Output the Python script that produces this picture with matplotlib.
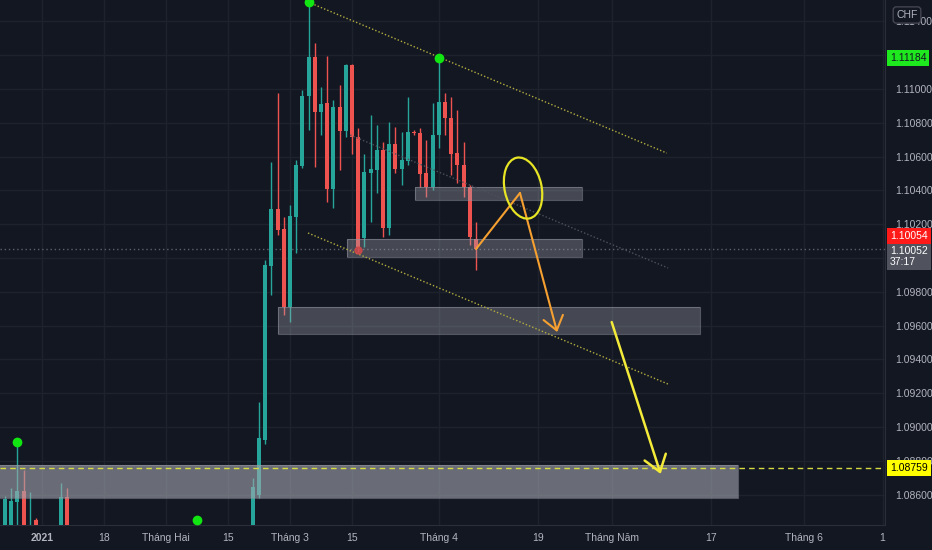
import matplotlib.pyplot as plt
from matplotlib.patches import Rectangle, Ellipse
from matplotlib import transforms

plt.rcParams['font.family'] = ['Liberation Sans', 'DejaVu Sans']

BG = '#131722'
UP = '#26a69a'
DOWN = '#ef5350'
TXT = '#b2b5be'
GRID = '#1e222d'

# daily bars, index 0 = 1 March 2021 (weekends skipped)
bars = [-46, -45, -44, -43, -42, -41, -37, -36,
        -6, -5, -4, -3, -2, -1, 0, 1, 2, 3, 4, 5, 6, 7, 8, 9, 10,
        11, 12, 13, 14, 15, 16, 17, 18, 19, 20, 21, 22, 23, 24, 25,
        26, 27, 28, 29, 30]
opens = [1.0835, 1.0835, 1.08558, 1.08621, 1.0836, 1.0845, 1.0835, 1.08588,
         1.0832, 1.08598, 1.08923, 1.09953, 1.10290, 1.10172, 1.09710, 1.10243,
         1.10544, 1.10959, 1.11189, 1.10864, 1.10917, 1.10408, 1.10893, 1.10751,
         1.11142, 1.10716, 1.10118, 1.10503, 1.10521, 1.10639, 1.10178, 1.10675,
         1.10527, 1.10574, 1.10746, 1.10740, 1.10503, 1.10420, 1.10728, 1.10923,
         1.10828, 1.10621, 1.10550, 1.10420, 1.10110]
highs = [1.0859, 1.08639, 1.08913, 1.08746, 1.08617, 1.0846, 1.08669, 1.08639,
         1.08698, 1.09148, 1.09988, 1.10568, 1.10976, 1.10243, 1.10314, 1.10580,
         1.10994, 1.11515, 1.11272, 1.11012, 1.11195, 1.10935, 1.11024, 1.11150,
         1.11150, 1.10769, 1.10615, 1.10846, 1.10787, 1.10686, 1.10805, 1.10775,
         1.10746, 1.10953, 1.10760, 1.10769, 1.10698, 1.10917, 1.11184, 1.10976,
         1.10953, 1.10876, 1.10686, 1.10432, 1.10213]
lows = [1.0830, 1.0830, 1.0835, 1.0830, 1.0835, 1.0835, 1.0830, 1.0830,
        1.0826, 1.0858, 1.0890, 1.09781, 1.10136, 1.0966, 1.09621, 1.10030,
        1.10533, 1.10757, 1.10538, 1.10728, 1.10331, 1.10296, 1.10521, 1.10716,
        1.10615, 1.10035, 1.10065, 1.10213, 1.10385, 1.10124, 1.10136, 1.10503,
        1.10432, 1.10550, 1.10730, 1.10420, 1.10361, 1.10402, 1.10651, 1.10728,
        1.10491, 1.10444, 1.10361, 1.10077, 1.09929]
closes = [1.08574, 1.08564, 1.08621, 1.0835, 1.0840, 1.0840, 1.08588, 1.0835,
          1.08645, 1.08935, 1.09959, 1.10290, 1.10166, 1.09710, 1.10249, 1.10550,
          1.10959, 1.11189, 1.10864, 1.10911, 1.10408, 1.10893, 1.10751, 1.11142,
          1.10716, 1.10065, 1.10509, 1.10527, 1.10639, 1.10178, 1.10675, 1.10527,
          1.10580, 1.10746, 1.10740, 1.10497, 1.10420, 1.10728, 1.10923, 1.10828,
          1.10615, 1.10550, 1.10420, 1.10124, 1.10054]

date_ticks = [-40, -30, -20, -10, 0, 10, 24, 40, 52, 68, 83, 95.6]
date_labels = ['2021', '18', 'Tháng Hai', '15', 'Tháng 3', '15', 'Tháng 4',
               '19', 'Tháng Năm', '17', 'Tháng 6', '1']
price_ticks = [1.086, 1.088, 1.090, 1.092, 1.094, 1.096, 1.098, 1.100,
               1.102, 1.104, 1.106, 1.108, 1.110, 1.112, 1.114]
# 1.100 and 1.112 sit under the price badges
price_labels = ['1.08600', '1.08800', '1.09000', '1.09200', '1.09400', '1.09600',
                '1.09800', '', '1.10200', '1.10400', '1.10600', '1.10800',
                '1.11000', '', '1.11400']

# drawn zones: x start, x end, low, high, strength
zone_x0 = [20.2, 9.2, -1.9, -47]
zone_x1 = [47.1, 47.1, 66.1, 72.3]
zone_lo = [1.10343, 1.10006, 1.09550, 1.08580]
zone_hi = [1.10420, 1.10112, 1.09710, 1.08775]
zone_alpha = [0.35, 0.35, 0.35, 0.6]

# channel lines
trend_x = [(2.9, 60.8), (2.9, 61.0), (9.7, 61.0)]
trend_p = [(1.11515, 1.10621), (1.10148, 1.09254), (1.10728, 1.09941)]
trend_col = ['#b3ad3e', '#b3ad3e', '#4c505b']

pivot_x = [3, 24, -44, -15]
pivot_p = [1.11515, 1.11184, 1.08913, 1.08450]

orange_x = [30.0, 37.1, 43.1]
orange_p = [1.10053, 1.10385, 1.09562]
yellow_x = [51.9, 59.8]
yellow_p = [1.09621, 1.08722]
circle_x, circle_p = 37.6, 1.10414

last_price = 1.10052
bid_price = 1.10054
target_price = 1.08759

fig = plt.figure(figsize=(9.32, 5.5), dpi=100, facecolor=BG)
ax = fig.add_axes([0, 25 / 550, 885 / 932, 525 / 550])
ax.set_facecolor(BG)
ax.set_xlim(-46.8, 96.0)
ax.set_ylim(1.0842, 1.11527)

# grid
for t in date_ticks:
    ax.axvline(t, color=GRID, lw=1, zorder=0)
for p in price_ticks:
    ax.axhline(p, color=GRID, lw=1, zorder=0)

# candles
cols = [UP if c >= o else DOWN for o, c in zip(opens, closes)]
ax.vlines(bars, lows, highs, colors=cols, lw=1, zorder=2)
ax.bar(bars, [max(abs(c - o), 0.00003) for o, c in zip(opens, closes)],
       bottom=[min(o, c) for o, c in zip(opens, closes)],
       width=0.64, color=cols, zorder=3)

# zones
for x0, x1, lo, hi, a in zip(zone_x0, zone_x1, zone_lo, zone_hi, zone_alpha):
    ax.add_patch(Rectangle((x0, lo), x1 - x0, hi - lo, facecolor='#a3a6af',
                           alpha=a, edgecolor='none', zorder=4))
    ax.add_patch(Rectangle((x0, lo), x1 - x0, hi - lo, facecolor='none',
                           edgecolor='#9598a1', alpha=0.5, lw=0.8, zorder=4))

# lines
for xs, ps, c in zip(trend_x, trend_p, trend_col):
    ax.plot(xs, ps, color=c, lw=1, ls=(0, (1, 1.5)), zorder=5)
ax.axhline(last_price, color='#5d606b', lw=1, ls=(0, (1, 2)), zorder=1)
ax.axhline(target_price, color='#d6dc40', lw=1, ls=(0, (4, 3)), zorder=5)

# pivot markers
ax.plot(pivot_x, pivot_p, 'o', color='#12e612', ms=6, zorder=6)
ax.plot([11], [1.10047], 'o', color='#d94848', ms=5, alpha=0.8, zorder=6)

# arrows
ORANGE = '#f5a030'
ax.plot(orange_x[:2], orange_p[:2], color=ORANGE, lw=1.5, zorder=7,
        solid_capstyle='round')
ax.annotate('', xy=(orange_x[2], orange_p[2]), xytext=(orange_x[1], orange_p[1]),
            arrowprops=dict(arrowstyle='->,head_length=0.6,head_width=0.45',
                            color=ORANGE, lw=1.5, shrinkA=0, shrinkB=0,
                            mutation_scale=16), zorder=7)
ax.annotate('', xy=(yellow_x[1], yellow_p[1]), xytext=(yellow_x[0], yellow_p[0]),
            arrowprops=dict(arrowstyle='->,head_length=0.7,head_width=0.5',
                            color='#f3ea3a', lw=1.8, shrinkA=0, shrinkB=0,
                            mutation_scale=16), zorder=7)
ell_tr = fig.dpi_scale_trans + transforms.ScaledTranslation(circle_x, circle_p, ax.transData)
ax.add_patch(Ellipse((0, 0), 0.37, 0.62, angle=12, transform=ell_tr,
                     facecolor='none', edgecolor='#e6e424', lw=1.6, zorder=7))

# axes styling
for s in ['left', 'top']:
    ax.spines[s].set_visible(False)
for s in ['right', 'bottom']:
    ax.spines[s].set_color('#2a2e39')
ax.yaxis.tick_right()
ax.set_yticks(price_ticks)
ax.set_yticklabels(price_labels)
ax.set_xticks(date_ticks)
ax.set_xticklabels(date_labels)
ax.tick_params(axis='y', length=0, pad=7, labelsize=7.5, labelcolor=TXT)
ax.tick_params(axis='x', length=0, pad=6, labelsize=7.5, labelcolor=TXT)
ax.get_xticklabels()[0].set_fontweight('bold')


def price_label(price, text, fc, tc, dy=0):
    ax.annotate(text, xy=(1.0, price), xycoords=('axes fraction', 'data'),
                xytext=(3.5, dy), textcoords='offset points', ha='left', va='center',
                fontsize=7.5, color=tc, linespacing=1.15,
                bbox=dict(boxstyle='square,pad=0.3', fc=fc, ec='none'),
                annotation_clip=False, zorder=10)


price_label(1.11184, '1.11184', '#1ee81e', BG)
price_label(last_price, '1.10052\n37:17', '#50535e', 'white', dy=-5)
price_label(bid_price, '1.10054', '#ff1a1a', 'white', dy=9.5)
price_label(target_price, '1.08759', '#ffff00', 'black')

fig.text(907 / 932, 1 - 15 / 550, 'CHF', ha='center', va='center', fontsize=7.5,
         color=TXT, bbox=dict(boxstyle='round,pad=0.3', fc=BG, ec='#434651'))

fig.savefig('out.png', dpi=100, facecolor=BG)
